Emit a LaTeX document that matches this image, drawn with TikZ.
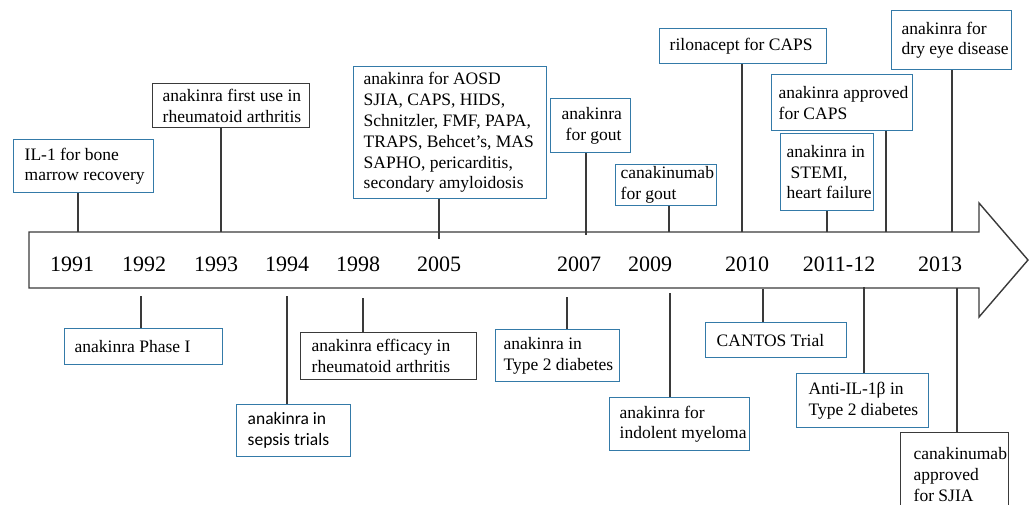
\documentclass[tikz,border=0pt]{standalone}
\usepackage{fontspec}
\setmainfont{Liberation Serif}
\newfontfamily\calibrifont{Carlito}
\usepackage{xcolor}
\definecolor{boxblue}{RGB}{52,122,168}
\definecolor{linegray}{RGB}{58,58,58}
\hyphenpenalty=10000
\exhyphenpenalty=10000

\begin{document}
\begin{tikzpicture}[x=1pt, y=-1pt,
    event/.style={draw=boxblue, line width=1.4pt, rectangle, anchor=north west, align=left,
        inner ysep=0pt, font=\fontsize{17.5}{20.8}\selectfont,
        execute at begin node={\spaceskip=0.25em\relax}},
    oldevent/.style={event, draw=linegray},
    boxdim/.style n args={3}{inner xsep=#3pt, text width=#1pt-2*#3pt, minimum height=#2pt},
    year/.style={anchor=base, inner sep=0pt, font=\fontsize{22}{26}\selectfont},
    link/.style={draw=linegray, line width=1.2pt}]
    \clip (0,0) rectangle (1029,504);

    % Time arrow
    \draw[draw=linegray, line width=1.4pt] (29,232) -- (979,232) -- (979,203) -- (1028,260)
        -- (979,317) -- (979,288) -- (29,288) -- cycle;
    \node[year] (y1991) at (72,271) {1991};
    \node[year] (y1992) at (144,271) {1992};
    \node[year] (y1993) at (216,271) {1993};
    \node[year] (y1994) at (287,271) {1994};
    \node[year] (y1998) at (358,271) {1998};
    \node[year] (y2005) at (439,271) {2005};
    \node[year] (y2007) at (579,271) {2007};
    \node[year] (y2009) at (650,271) {2009};
    \node[year] (y2010) at (747,271) {2010};
    \node[year] (y2011) at (839,271) {2011-12};
    \node[year] (y2013) at (940,271) {2013};

    % Events above
    \node[event, boxdim={140}{53}{11}] (ilbone) at (13,139) {IL-1~for~bone\\marrow~recovery};
    \node[oldevent, boxdim={157}{44}{10}] (firstuse) at (152,83) {anakinra~first~use~in\\rheumatoid~arthritis};
    \node[event, boxdim={193}{132}{10}] (aosd) at (353,66) {anakinra~for~AOSD\\SJIA,~CAPS,~HIDS,\\Schnitzler,~FMF,~PAPA,\\TRAPS,~Behcet’s,~MAS\\SAPHO,~pericarditis,\\secondary~amyloidosis};
    \node[event, boxdim={80}{54}{11}] (gout) at (550,98) {anakinra\\\hspace*{4pt}for~gout};
    \node[event, boxdim={101}{41}{5}] (canagout) at (615,164) {canakinumab\\for~gout};
    \node[event, boxdim={167}{35}{10}] (rilon) at (659,28) {rilonacept~for~CAPS};
    \node[event, boxdim={141}{56}{7}] (approved) at (771,74) {anakinra~approved\\for~CAPS};
    \node[event, boxdim={93}{77}{6}] (stemi) at (780,133) {anakinra~in\\\hspace*{4pt}STEMI,\\heart~failure};
    \node[event, boxdim={120}{59}{10}] (dryeye) at (891,10) {anakinra~for\\dry~eye~disease};

    % Events below
    \node[event, boxdim={158}{36}{10}] (phase1) at (64,328) {anakinra~Phase~I};
    \node[event, boxdim={114}{52}{11}, font=\calibrifont\fontsize{17.5}{20.8}\selectfont,
        execute at begin node={\spaceskip=0.226em\relax}] (sepsis) at (236,404) {anakinra~in\\sepsis~trials};
    \node[oldevent, boxdim={176}{47}{11}] (efficacy) at (300,332) {anakinra~efficacy~in\\rheumatoid~arthritis};
    \node[event, boxdim={124}{52}{8}] (t2d) at (495,329) {anakinra~in\\Type~2~diabetes};
    \node[event, boxdim={140}{53}{10}] (myeloma) at (609,397) {anakinra~for\\indolent~myeloma};
    \node[event, boxdim={141}{35}{11}] (cantos) at (705,322) {CANTOS~Trial};
    \node[event, boxdim={132}{54}{12}] (antiil) at (796,373) {Anti-IL-1β~in\\Type~2~diabetes};
    \node[oldevent, boxdim={108}{84}{13}] (sjia) at (900,432) {canakinumab\\approved\\for~SJIA};

    % Pins on the arrow
    \coordinate (p-ilbone) at (78,232);
    \coordinate (p-firstuse) at (221,232);
    \coordinate (p-aosd) at (439,239);
    \coordinate (p-gout) at (586,235);
    \coordinate (p-canagout) at (669,232);
    \coordinate (p-rilon) at (742,232);
    \coordinate (p-stemi) at (827,232);
    \coordinate (p-approved) at (886,232);
    \coordinate (p-dryeye) at (952,232);
    \coordinate (p-phase1) at (141,296);
    \coordinate (p-sepsis) at (287,296);
    \coordinate (p-efficacy) at (363,298);
    \coordinate (p-t2d) at (567,297);
    \coordinate (p-myeloma) at (670,293);
    \coordinate (p-cantos) at (763,289);
    \coordinate (p-antiil) at (864,287);
    \coordinate (p-sjia) at (957,288);

    % Links
    \foreach \ev in {ilbone, firstuse, aosd, gout, canagout, rilon, stemi, approved, dryeye}
        \draw[link] (\ev.south -| p-\ev) -- (p-\ev);
    \foreach \ev in {phase1, sepsis, efficacy, t2d, myeloma, cantos, antiil, sjia}
        \draw[link] (p-\ev) -- (\ev.north -| p-\ev);
\end{tikzpicture}
\end{document}
